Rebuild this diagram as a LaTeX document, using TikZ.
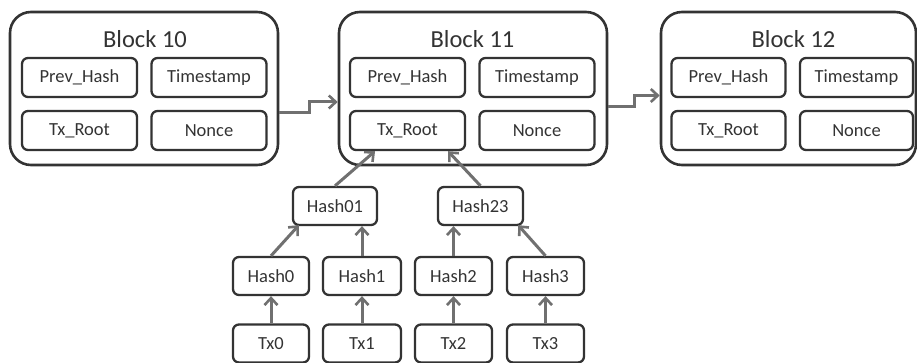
\documentclass[tikz,border=0pt]{standalone}
\usepackage{fontspec}
\setmainfont{Carlito}
\usetikzlibrary{arrows.meta,positioning}

\definecolor{boxline}{HTML}{333333}
\definecolor{linkgray}{HTML}{707070}
\tikzset{
  blockbox/.style={draw=boxline,line width=2.6pt,rounded corners=21pt,minimum height=153pt},
  field/.style={draw=boxline,line width=2.3pt,rounded corners=6pt,minimum width=115pt,minimum height=39pt,
    inner sep=0pt,font=\fontsize{18.5}{20}\selectfont,text=boxline},
  hashbox/.style={field,minimum width=77pt,minimum height=38pt},
  blocktitle/.style={anchor=base,inner sep=0pt,font=\fontsize{24.5}{26}\selectfont,text=boxline},
  link/.style={draw=linkgray,line width=3pt,-{Straight Barb[length=7pt,width=13pt,line width=2.6pt]}}
}

\begin{document}
\begin{tikzpicture}[x=1pt,y=-1pt]
    \useasboundingbox (0,0) rectangle (917,363);
    % chain of blocks
    \node[blockbox,minimum width=268pt] (b10) at (144,88.5) {};
    \node[blockbox,minimum width=268pt] (b11) at (473,88.5) {};
    \node[blockbox,minimum width=255pt] (b12) at (788.5,88.5) {};
    \node[blocktitle] (t10) at (145,48) {Block 10};
    \node[blocktitle] (t11) at (472.5,48) {Block 11};
    \node[blocktitle] (t12) at (793.5,48) {Block 12};
    \node[field] (prev10) at (79.5,77.5) {Prev\_Hash};
    \node[field] (time10) at (209,77.5) {Timestamp};
    \node[field] (root10) at (79.5,130.5) {Tx\_Root};
    \node[field] (nonce10) at (209,130.5) {Nonce};
    \node[field] (prev11) at (407.5,77.5) {Prev\_Hash};
    \node[field] (time11) at (537,77.5) {Timestamp};
    \node[field] (root11) at (407.5,130.5) {Tx\_Root};
    \node[field] (nonce11) at (537,130.5) {Nonce};
    \node[field,minimum width=114pt] (prev12) at (728.5,77.5) {Prev\_Hash};
    \node[field,minimum width=113pt] (time12) at (856.5,77.5) {Timestamp};
    \node[field,minimum width=114pt] (root12) at (728.5,130.5) {Tx\_Root};
    \node[field,minimum width=113pt] (nonce12) at (856.5,130.5) {Nonce};
    \draw[link] ([yshift=-24.5pt]b10.east) -- ++(30,0) |- ([yshift=-13.5pt]b11.west);
    \draw[link] ([yshift=-18pt]b11.east) -- ++(26,0) |- ([yshift=-7pt]b12.west);
    % merkle tree
    \node[hashbox,minimum width=84pt] (h01) at (335,206) {Hash01};
    \node[hashbox,minimum width=85pt] (h23) at (480.5,206) {Hash23};
    \node[hashbox,minimum width=76pt] (h0) at (271,276) {Hash0};
    \node[hashbox,minimum width=78pt] (h1) at (362,276) {Hash1};
    \node[hashbox] (h2) at (453.5,276) {Hash2};
    \node[hashbox] (h3) at (545.5,276) {Hash3};
    \node[hashbox,minimum width=76pt] (tx0) at (271,343.5) {Tx0};
    \node[hashbox,minimum width=78pt] (tx1) at (362,343.5) {Tx1};
    \node[hashbox] (tx2) at (453.5,343.5) {Tx2};
    \node[hashbox] (tx3) at (545.5,343.5) {Tx3};
    \draw[link] (tx0) -- (h0);
    \draw[link] (tx1) -- (h1);
    \draw[link] (tx2) -- (h2);
    \draw[link] (tx3) -- (h3);
    \draw[link] (h0.north) -- ([xshift=7pt,yshift=1pt]h01.south west);
    \draw[link] (h1.north) -- (h1.north |- h01.south);
    \draw[link] (h2.north) -- (h2.north |- h23.south);
    \draw[link] (h3.north) -- ([xshift=-6pt,yshift=1pt]h23.south east);
    \draw[link] (h01.north) -- ([xshift=-32.5pt]root11.south);
    \draw[link] (h23.north) -- ([xshift=40.5pt]root11.south);
\end{tikzpicture}
\end{document}
